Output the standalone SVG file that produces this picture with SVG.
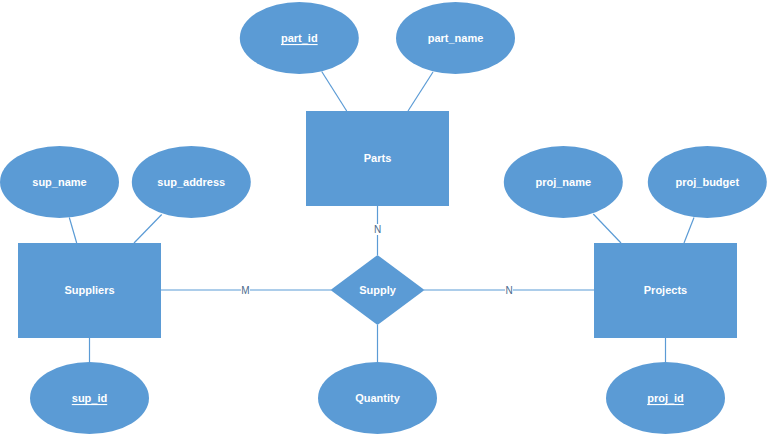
<svg xmlns="http://www.w3.org/2000/svg" width="768" height="438" viewBox="0 0 768 438">
<style>
.ent{fill:#5B9BD5;}
.att{fill:#5B9BD5;}
.t{font-family:"Liberation Sans",Arial,sans-serif;font-size:11px;font-weight:bold;fill:#FFFFFF;text-anchor:middle;dominant-baseline:central;}
.u{text-decoration:underline;}
.c{stroke:#5B9BD5;stroke-width:1.2;fill:none;}
.lbl{font-family:"Liberation Sans",Arial,sans-serif;font-size:10px;fill:#4A6A8C;text-anchor:middle;dominant-baseline:central;}
.bg{fill:#FFFFFF;}
</style>
<rect width="768" height="438" fill="#FFFFFF"/>
<g id="connectors">
<line class="c" x1="321.7" y1="71.5" x2="346.7" y2="111"/>
<line class="c" x1="433" y1="72" x2="408" y2="111"/>
<line class="c" x1="69.3" y1="217.5" x2="76.7" y2="243"/>
<line class="c" x1="161.7" y1="214.5" x2="134" y2="243"/>
<line class="c" x1="593.3" y1="214" x2="621" y2="243"/>
<line class="c" x1="694" y1="217.5" x2="684" y2="243"/>
<line class="c" x1="89.5" y1="338" x2="89.5" y2="362.5"/>
<line class="c" x1="665.5" y1="338" x2="665.5" y2="362.5"/>
<line class="c" x1="377.5" y1="325" x2="377.5" y2="362.5"/>
<line class="c" x1="377.5" y1="206" x2="377.5" y2="255"/>
<line class="c" x1="161" y1="290" x2="331" y2="290"/>
<line class="c" x1="424" y1="290" x2="594" y2="290"/>
<rect class="bg" x="373.5" y="224" width="8" height="11"/>
<text class="lbl" x="377.5" y="229.5">N</text>
<rect class="bg" x="241" y="285" width="9" height="10"/>
<text class="lbl" x="245.5" y="290">M</text>
<rect class="bg" x="505" y="285" width="8" height="10"/>
<text class="lbl" x="509" y="290">N</text>
</g>
<g id="parts"><rect class="ent" x="306" y="111" width="143" height="95"/><text class="t" x="377.5" y="158">Parts</text></g>
<g id="suppliers"><rect class="ent" x="18" y="243" width="143" height="95"/><text class="t" x="89.5" y="290">Suppliers</text></g>
<g id="projects"><rect class="ent" x="594" y="243" width="143" height="95"/><text class="t" x="665.5" y="290">Projects</text></g>
<g id="supply"><polygon class="ent" points="377.5,255 424.5,290 377.5,325 330.5,290"/><text class="t" x="377.5" y="290">Supply</text></g>
<g id="part_id"><ellipse class="att" cx="299.3" cy="38" rx="59.5" ry="36"/><text class="t u" x="299.3" y="38">part_id</text></g>
<g id="part_name"><ellipse class="att" cx="455.5" cy="38" rx="59.5" ry="36"/><text class="t" x="455.5" y="38">part_name</text></g>
<g id="sup_name"><ellipse class="att" cx="59.5" cy="182" rx="59.5" ry="36"/><text class="t" x="59.5" y="182">sup_name</text></g>
<g id="sup_address"><ellipse class="att" cx="191.3" cy="182" rx="59.5" ry="36"/><text class="t" x="191.3" y="182">sup_address</text></g>
<g id="proj_name"><ellipse class="att" cx="563.3" cy="182" rx="59.5" ry="36"/><text class="t" x="563.3" y="182">proj_name</text></g>
<g id="proj_budget"><ellipse class="att" cx="707.3" cy="182" rx="59.5" ry="36"/><text class="t" x="707.3" y="182">proj_budget</text></g>
<g id="sup_id"><ellipse class="att" cx="89.5" cy="398" rx="59.5" ry="36"/><text class="t u" x="89.5" y="398">sup_id</text></g>
<g id="quantity"><ellipse class="att" cx="377.5" cy="398" rx="59.5" ry="36"/><text class="t" x="377.5" y="398">Quantity</text></g>
<g id="proj_id"><ellipse class="att" cx="665.5" cy="398" rx="59.5" ry="36"/><text class="t u" x="665.5" y="398">proj_id</text></g>
</svg>
